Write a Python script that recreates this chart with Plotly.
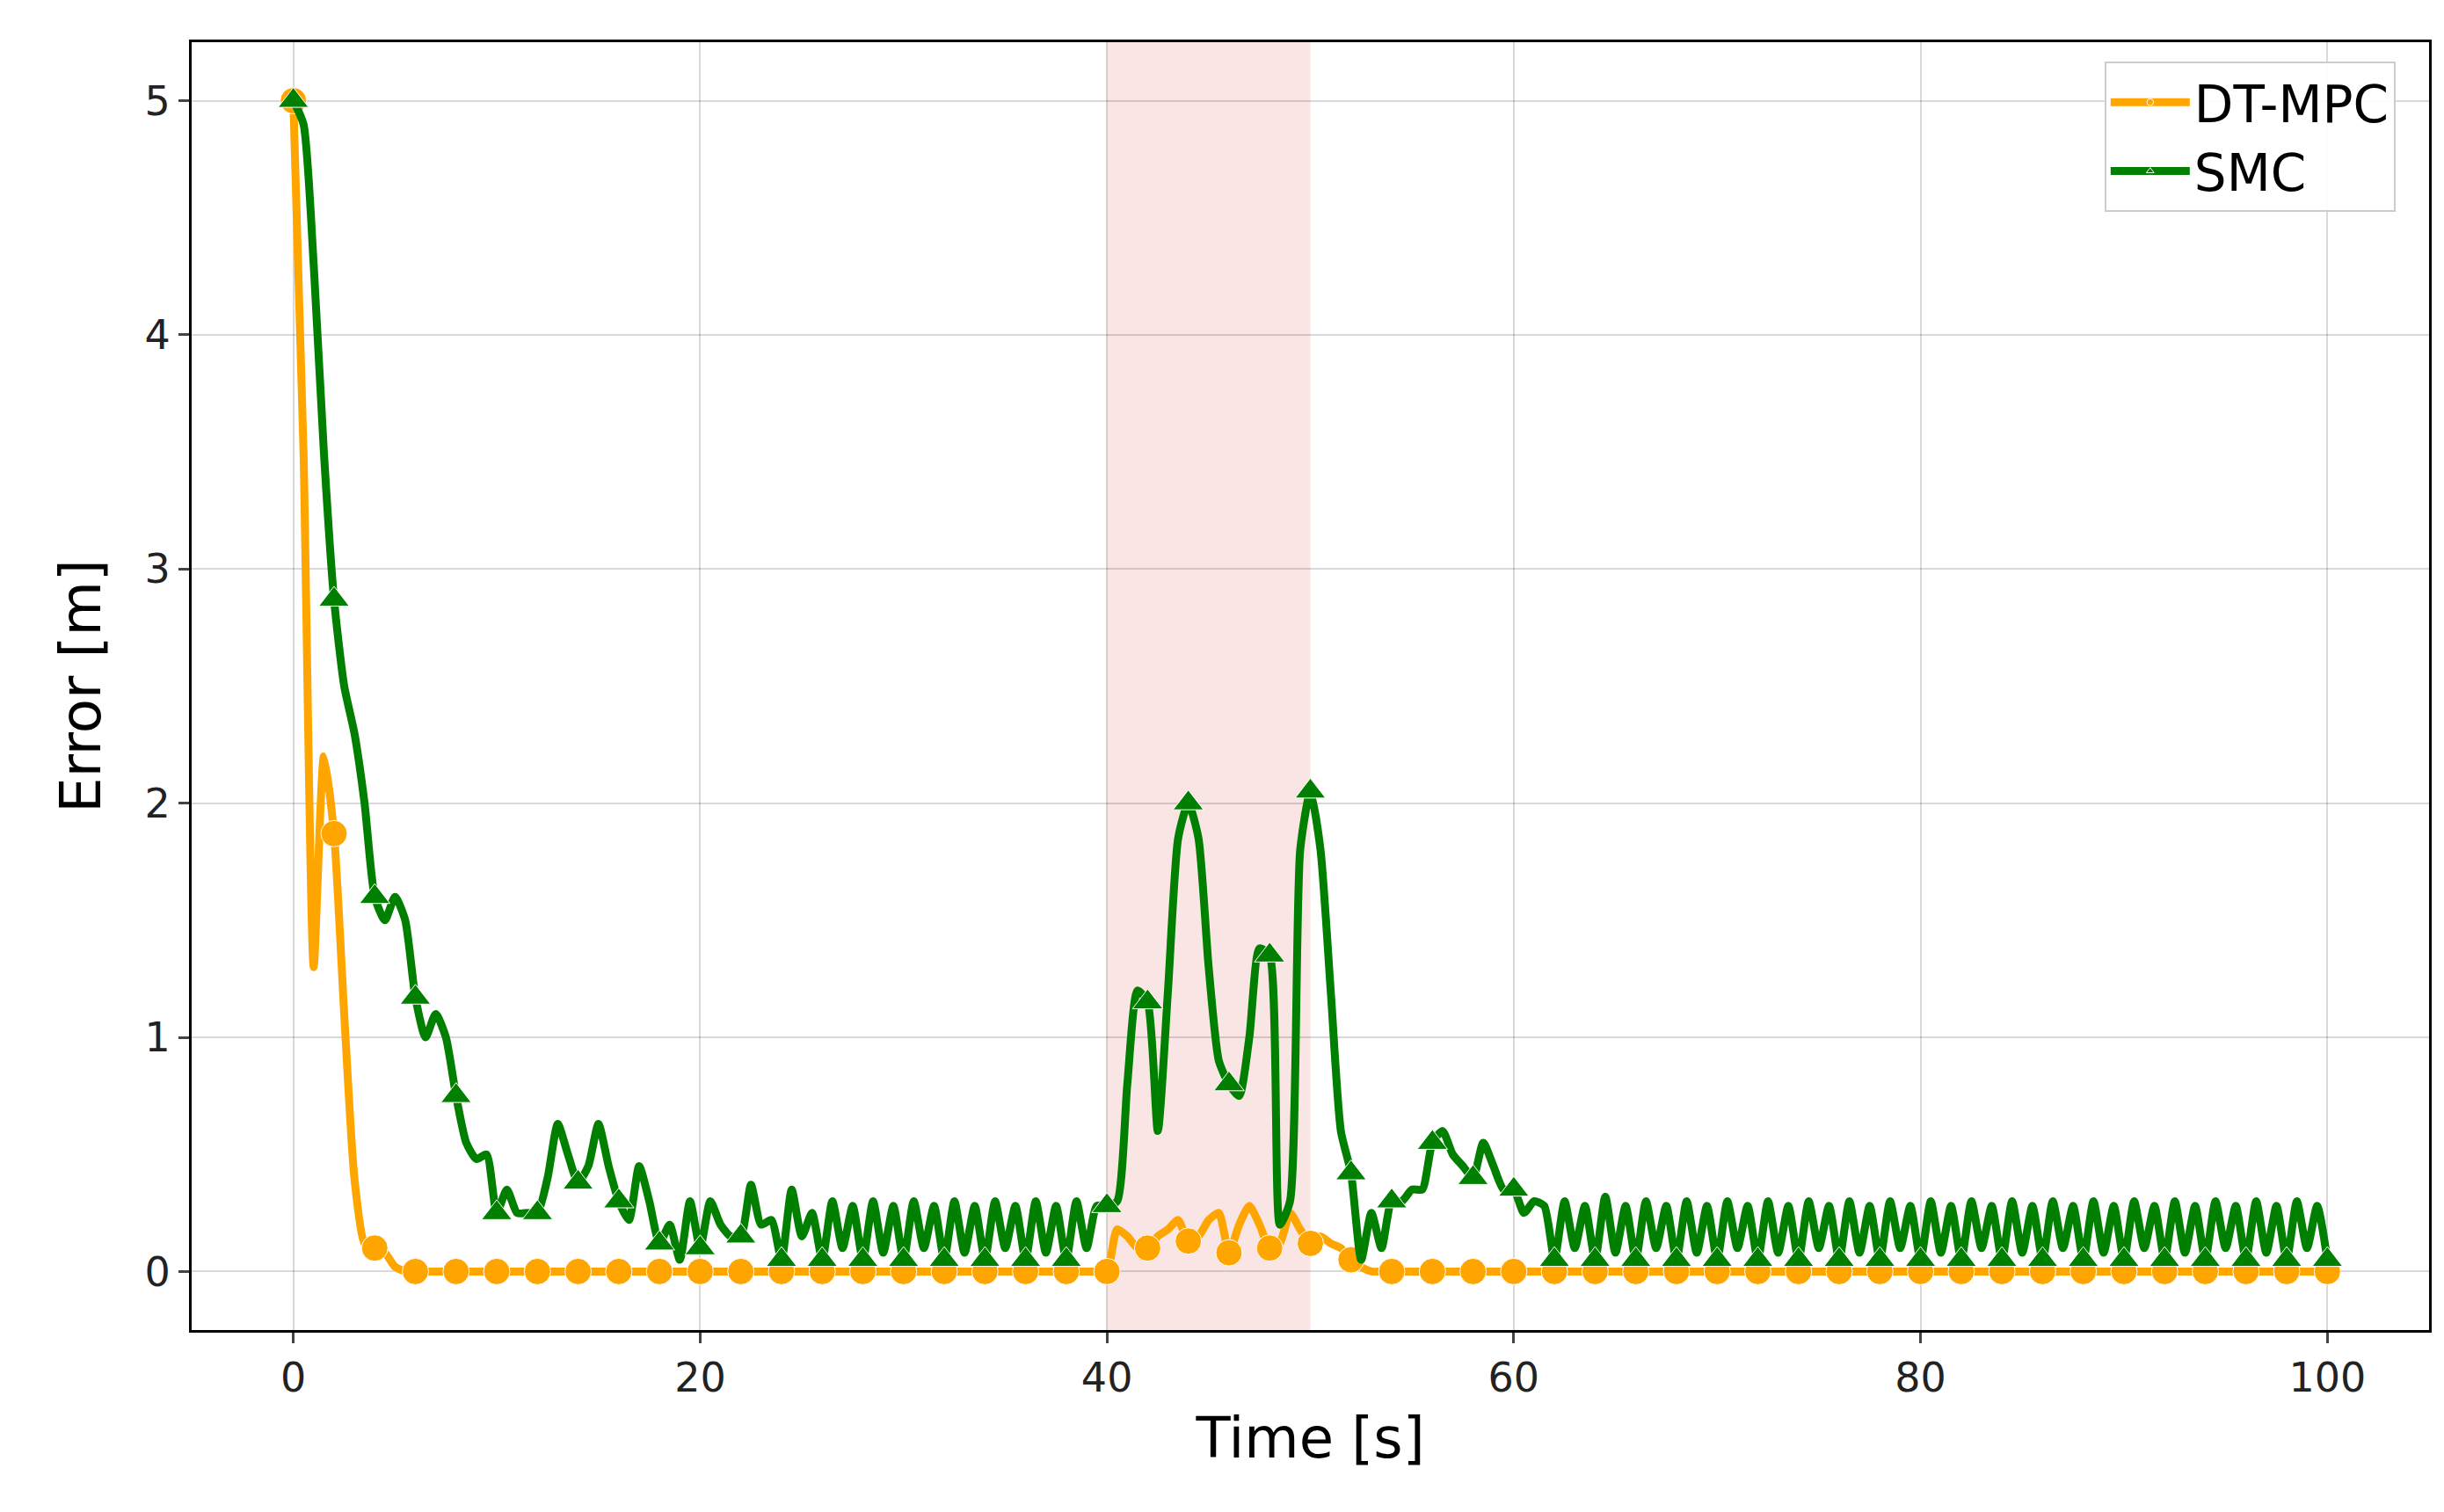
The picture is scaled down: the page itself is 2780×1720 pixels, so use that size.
import plotly.graph_objects as go

time = [i * 0.5 for i in range(201)]

dt_mpc = [5.0, 3.5, 1.3, 2.2, 1.87, 1.1, 0.4, 0.12, 0.1, 0.08, 0.02] + [0.0] * 69 + \
    [0.0, 0.18, 0.15, 0.1, 0.1, 0.15, 0.18, 0.22, 0.13, 0.15, 0.22, 0.25, 0.08, 0.2, 0.28, 0.2,
     0.1, 0.12, 0.25, 0.18, 0.12, 0.15, 0.12, 0.1, 0.05, 0.02] + [0.0] * 95

smc_start = [5.0, 4.9, 4.3, 3.5, 2.87, 2.5, 2.3, 2.0, 1.6, 1.5, 1.6, 1.5, 1.17, 1.0, 1.1, 1.0,
             0.75, 0.55, 0.48, 0.5, 0.25, 0.35, 0.25, 0.25, 0.25, 0.4, 0.63, 0.5, 0.38, 0.45,
             0.63, 0.45, 0.3, 0.22, 0.45, 0.3, 0.12, 0.2, 0.05, 0.3, 0.1, 0.3, 0.2, 0.15, 0.15,
             0.37, 0.2, 0.22, 0.05, 0.35, 0.15, 0.25]
smc_steady1 = [0.05, 0.3, 0.1, 0.28, 0.05, 0.3, 0.08, 0.28, 0.05, 0.3, 0.1, 0.28, 0.05, 0.3,
               0.08, 0.28, 0.05, 0.3, 0.1, 0.28, 0.05, 0.3, 0.08, 0.28, 0.05, 0.3, 0.1, 0.28]
smc_event = [0.28, 0.3, 0.8, 1.2, 1.15, 0.6, 1.2, 1.85, 2.0, 1.85, 1.3, 0.9, 0.8, 0.75, 1.0,
             1.38, 1.35, 0.2, 0.3, 1.8, 2.05, 1.8, 1.2, 0.6, 0.42, 0.05, 0.25, 0.1, 0.3, 0.3,
             0.35, 0.35, 0.55, 0.6, 0.5, 0.45, 0.4, 0.55, 0.45, 0.35, 0.35, 0.25, 0.3]
smc_steady2 = [0.28, 0.05, 0.3, 0.1, 0.28, 0.05, 0.32, 0.08, 0.28, 0.05, 0.3, 0.1, 0.28, 0.05,
               0.3, 0.08, 0.28, 0.05, 0.3, 0.1, 0.28, 0.05, 0.3, 0.08, 0.28, 0.05, 0.3, 0.1,
               0.28, 0.05, 0.3, 0.08, 0.28, 0.05, 0.3, 0.1, 0.28, 0.05, 0.3, 0.08, 0.28, 0.05,
               0.3, 0.1, 0.28, 0.05, 0.3, 0.08, 0.28, 0.05, 0.3, 0.1, 0.28, 0.05, 0.3, 0.08,
               0.28, 0.05, 0.3, 0.1, 0.28, 0.05, 0.3, 0.08, 0.28, 0.05, 0.3, 0.1, 0.28, 0.05,
               0.3, 0.08, 0.28, 0.05, 0.3, 0.1, 0.28, 0.05, 0.3, 0.03]
smc = (smc_start + smc_steady1 + smc_event + smc_steady2)[:201]
smc += [0.03] * (201 - len(smc))

marker_sizes = [30 if i % 4 == 0 else 0 for i in range(201)]

fig = go.Figure()
fig.add_vrect(x0=40, x1=50, fillcolor="rgba(235,150,150,0.25)", line_width=0, layer="below")
fig.add_trace(go.Scatter(x=time, y=dt_mpc, name="DT-MPC", mode="lines+markers",
                         line=dict(color="#FFA500", width=9, shape="spline", smoothing=0.6),
                         marker=dict(symbol="circle", size=marker_sizes, color="#FFA500", opacity=1)))
fig.add_trace(go.Scatter(x=time, y=smc, name="SMC", mode="lines+markers",
                         line=dict(color="#007F00", width=9, shape="spline", smoothing=0.6),
                         marker=dict(symbol="triangle-up", size=marker_sizes, color="#007F00", opacity=1)))

axis_common = dict(showgrid=True, gridcolor="rgba(0,0,0,0.15)", gridwidth=2, showline=True,
                   linecolor="black", linewidth=3, mirror=True, ticks="outside", ticklen=12,
                   tickwidth=3, tickfont=dict(size=46, color="#222222"), zeroline=False)
fig.update_xaxes(range=[-5, 105], tickvals=[0, 20, 40, 60, 80, 100],
                 title=dict(text="Time [s]", font=dict(size=64, color="black"), standoff=20), **axis_common)
fig.update_yaxes(range=[-0.25, 5.25], tickvals=[0, 1, 2, 3, 4, 5],
                 title=dict(text="Error [m]", font=dict(size=64, color="black"), standoff=30), **axis_common)
fig.update_layout(width=2780, height=1720, plot_bgcolor="white", paper_bgcolor="white",
                  font=dict(family="DejaVu Sans"),
                  margin=dict(l=210, r=25, t=40, b=215),
                  legend=dict(x=0.985, y=0.985, xanchor="right", yanchor="top",
                              bgcolor="rgba(255,255,255,0.9)", bordercolor="#cccccc",
                              borderwidth=2, font=dict(size=58, color="black"),
                              itemwidth=90, tracegroupgap=10))
fig.write_html("out.html")
